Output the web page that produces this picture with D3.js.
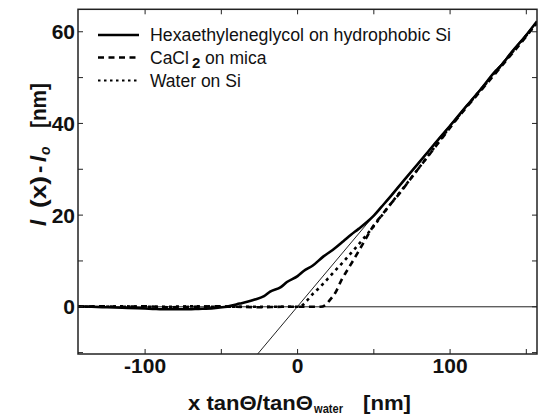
<!DOCTYPE html>
<html>
<head>
<meta charset="utf-8">
<script src="https://cdn.jsdelivr.net/npm/d3@7"></script>
<style>
  html, body { margin: 0; padding: 0; background: #fff; }
  svg { display: block; font-family: "Liberation Sans", Arial, sans-serif; }
</style>
</head>
<body>
<svg id="chart" width="539" height="416"></svg>
<script>
// ---- data ----
const hexX = [-144,-135,-125,-115,-105,-95,-85,-75,-65,-55,-48,-44,-38,-33,-28,-22,-18,-11,-7,0,4,10,17,23,30,35,40,45.5,50,55,60,70,80,90,100,110,120,130,135,140,150,157];
const hexY = [0.1,0.0,-0.1,-0.2,-0.3,-0.45,-0.55,-0.55,-0.45,-0.3,-0.05,0.2,0.7,1.1,1.6,2.3,3.3,4.3,5.4,6.7,7.8,9.0,11.0,12.4,14.3,15.7,17.0,18.5,19.9,21.8,23.7,27.7,31.6,35.6,39.5,43.5,47.4,51.5,53.2,55.4,59.3,62.3];

const camX = [-144,-130,-115,-100,-85,-70,-55,-40,-25,-10,0,8,15,18,21,25,29,33,37,41,45,50,55,60,67,75,85,95,105,120,135,150,157];
const camY = [0.0,0.1,0.0,0.1,-0.1,0.0,0.1,0.0,-0.1,0.0,0.0,0.0,0.0,0.3,1.4,3.2,6.0,8.2,10.4,12.7,15.0,17.8,19.9,22.0,24.8,28.3,32.6,36.9,41.2,47.1,53.0,59.0,62.0];

const watX = [-144,-130,-115,-100,-85,-70,-55,-40,-25,-10,0,3,6,10,15,20,26,30,35,40,45,50,55,60,70,80,90,100,120,140,157];
const watY = [0.0,0.0,0.1,0.0,0.0,0.1,0.0,0.0,0.0,0.0,0.0,0.3,1.3,2.8,4.4,6.2,8.4,9.8,11.7,13.6,15.6,17.6,19.8,22.0,26.2,30.5,34.9,39.3,47.3,55.2,62.0];

const asymX = [-26.2, 157];
const asymY = [-10.3, 62.3];

const xTicks = [-100, 0, 100];
const xMinor = [-150, -100, -50, 0, 50, 100, 150];
const yTicks = [0, 20, 40, 60];
const yMinor = [-10, 0, 10, 20, 30, 40, 50, 60];

const seriesNames = ["Hexaethyleneglycol on hydrophobic Si", "CaCl", "Water on Si"];

// ---- layout ----
const L = 78, R = 537, T = 9.3, B = 354;
const x = d3.scaleLinear().domain([-144, 157]).range([L, R]);
const y = d3.scaleLinear().domain([-10.3, 64.9]).range([B, T]);

const svg = d3.select("#chart");

svg.append("defs").append("clipPath").attr("id", "clip")
  .append("rect").attr("x", L).attr("y", T).attr("width", R - L).attr("height", B - T);

const plot = svg.append("g").attr("clip-path", "url(#clip)");

// zero line
plot.append("line")
  .attr("x1", L).attr("x2", R).attr("y1", y(0)).attr("y2", y(0))
  .attr("stroke", "#222").attr("stroke-width", 1);

// asymptote
plot.append("line")
  .attr("x1", x(asymX[0])).attr("y1", y(asymY[0]))
  .attr("x2", x(asymX[1])).attr("y2", y(asymY[1]))
  .attr("stroke", "#222").attr("stroke-width", 1);

const line = d3.line().x(d => x(d[0])).y(d => y(d[1])).curve(d3.curveMonotoneX);

const styles = [
  { w: 2.6, dash: null },
  { w: 2.6, dash: "6,4.5" },
  { w: 2.6, dash: "3,4" }
];
const series = [
  d3.zip(camX, camY),
  d3.zip(watX, watY),
  d3.zip(hexX, hexY)
];
const sIdx = [1, 2, 0];
series.forEach((s, i) => {
  const st = styles[sIdx[i]];
  plot.append("path").datum(s).attr("d", line)
    .attr("fill", "none").attr("stroke", "#000")
    .attr("stroke-width", st.w)
    .attr("stroke-dasharray", st.dash);
});

// frame
svg.append("rect").attr("x", L).attr("y", T).attr("width", R - L).attr("height", B - T)
  .attr("fill", "none").attr("stroke", "#222").attr("stroke-width", 1.5);

// ticks (inward, all sides)
const tk = 5;
const tg = svg.append("g").attr("stroke", "#222").attr("stroke-width", 1);
xMinor.filter(v => x(v) > L + 1 && x(v) < R - 1).forEach(v => {
  tg.append("line").attr("x1", x(v)).attr("x2", x(v)).attr("y1", B).attr("y2", B - tk);
  tg.append("line").attr("x1", x(v)).attr("x2", x(v)).attr("y1", T).attr("y2", T + tk);
});
yMinor.filter(v => y(v) > T + 1 && y(v) < B - 1).forEach(v => {
  tg.append("line").attr("x1", L).attr("x2", L + tk).attr("y1", y(v)).attr("y2", y(v));
  tg.append("line").attr("x1", R).attr("x2", R - tk).attr("y1", y(v)).attr("y2", y(v));
});

// tick labels
svg.append("g").selectAll("text").data(xTicks).join("text")
  .attr("x", d => x(d)).attr("y", 373)
  .attr("text-anchor", "middle").attr("font-size", 21).attr("font-weight", "bold")
  .attr("fill", "#111")
  .text(d => d3.format("d")(d).replace("−", "-"));

svg.append("g").selectAll("text").data(yTicks).join("text")
  .attr("x", 75).attr("y", d => y(d)).attr("dy", "0.36em")
  .attr("text-anchor", "end").attr("font-size", 21).attr("font-weight", "bold")
  .attr("fill", "#111")
  .text(d => d);

// x title
const xt = svg.append("g").attr("fill", "#111").attr("font-weight", "bold");
xt.append("text").attr("x", 188).attr("y", 410).attr("font-size", 21)
  .attr("textLength", 125).attr("lengthAdjust", "spacingAndGlyphs")
  .text("x tan\u0398/tan\u0398");
xt.append("text").attr("x", 314).attr("y", 413).attr("font-size", 12)
  .attr("textLength", 29).attr("lengthAdjust", "spacingAndGlyphs")
  .text("water");
xt.append("text").attr("x", 363).attr("y", 410).attr("font-size", 21)
  .attr("textLength", 48).attr("lengthAdjust", "spacingAndGlyphs")
  .text("[nm]");

// y title
const yt = svg.append("g").attr("transform", "translate(46,0) rotate(-90)")
  .attr("fill", "#111").attr("font-weight", "bold").attr("font-size", 22);
yt.append("text").attr("x", -226).attr("y", 0).attr("font-style", "italic").text("l");
yt.append("text").attr("x", -208).attr("y", 0).attr("textLength", 32).attr("lengthAdjust", "spacingAndGlyphs").text("(x)");
yt.append("text").attr("x", -173).attr("y", 0).text("-");
yt.append("text").attr("x", -162).attr("y", 0).attr("font-style", "italic").text("l");
yt.append("text").attr("x", -155).attr("y", 4).attr("font-style", "italic").attr("font-size", 14).text("o");
yt.append("text").attr("x", -128).attr("y", 0).attr("textLength", 45).attr("lengthAdjust", "spacingAndGlyphs").text("[nm]");

// legend
const legY = [35, 57.5, 80.5];
const lg = svg.append("g");
[0, 1, 2].forEach(i => {
  lg.append("line").attr("x1", 98).attr("x2", 139).attr("y1", legY[i]).attr("y2", legY[i])
    .attr("stroke", "#000").attr("stroke-width", i === 2 ? 1.8 : styles[i].w)
    .attr("stroke-dasharray", i === 2 ? "2.5,3.5" : styles[i].dash);
});
lg.append("text").attr("x", 150).attr("y", legY[0] + 6).attr("font-size", 17.5)
  .attr("textLength", 301).attr("lengthAdjust", "spacingAndGlyphs")
  .attr("fill", "#111").text(seriesNames[0]);
const t2 = lg.append("text").attr("x", 150).attr("y", legY[1] + 6).attr("font-size", 17.5).attr("fill", "#111");
t2.append("tspan").text(seriesNames[1]);
t2.append("tspan").attr("dx", 3).attr("dy", 4).attr("font-size", 15).attr("font-weight", "bold").text("2");
t2.append("tspan").attr("dy", -4).text(" on mica");
lg.append("text").attr("x", 150).attr("y", legY[2] + 6).attr("font-size", 17.5)
  .attr("fill", "#111").text(seriesNames[2]);
</script>
</body>
</html>
